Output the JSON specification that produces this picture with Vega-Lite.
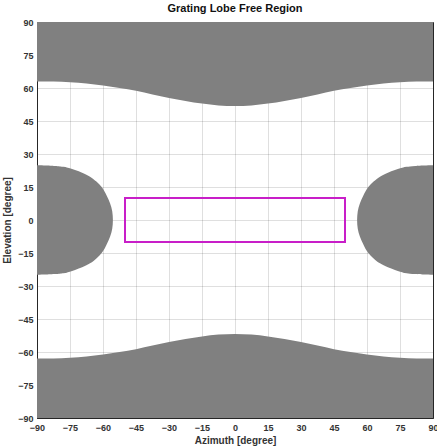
{
  "$schema": "https://vega.github.io/schema/vega-lite/v6.json",
  "width": 396,
  "height": 396,
  "autosize": {"type": "none"},
  "padding": {"left": 37, "top": 22, "right": 4, "bottom": 30},
  "background": "white",
  "title": {"text": "Grating Lobe Free Region", "font": "Liberation Sans", "fontSize": 11, "fontWeight": "bold", "color": "#111111", "offset": 4},
  "config": {
    "view": {"stroke": "#262626", "strokeWidth": 1},
    "axis": {
      "grid": true, "gridColor": "#262626", "gridOpacity": 0.15, "gridWidth": 1,
      "domainColor": "#262626", "ticks": false,
      "labelFont": "Liberation Sans", "labelFontSize": 9, "labelFontWeight": "bold", "labelColor": "#333333",
      "titleFont": "Liberation Sans", "titleFontSize": 10, "titleFontWeight": "bold", "titleColor": "#333333",
      "zindex": 1
    }
  },
  "datasets": {
    "top": [
      {"az": -90, "el": 63.0}, {"az": -82.5, "el": 62.9}, {"az": -75, "el": 62.6}, {"az": -67.5, "el": 62.0},
      {"az": -60, "el": 61.1}, {"az": -52.5, "el": 60.0}, {"az": -45, "el": 58.7}, {"az": -37.5, "el": 57.1},
      {"az": -30, "el": 55.5}, {"az": -22.5, "el": 54.1}, {"az": -15, "el": 52.9}, {"az": -7.5, "el": 52.1},
      {"az": 0, "el": 51.8}, {"az": 7.5, "el": 52.1}, {"az": 15, "el": 52.9}, {"az": 22.5, "el": 54.1},
      {"az": 30, "el": 55.5}, {"az": 37.5, "el": 57.1}, {"az": 45, "el": 58.7}, {"az": 52.5, "el": 60.0},
      {"az": 60, "el": 61.1}, {"az": 67.5, "el": 62.0}, {"az": 75, "el": 62.6}, {"az": 82.5, "el": 62.9},
      {"az": 90, "el": 63.0}
    ],
    "bottom": [
      {"az": -90, "el": -63.0}, {"az": -82.5, "el": -62.9}, {"az": -75, "el": -62.6}, {"az": -67.5, "el": -62.0},
      {"az": -60, "el": -61.1}, {"az": -52.5, "el": -60.0}, {"az": -45, "el": -58.7}, {"az": -37.5, "el": -57.1},
      {"az": -30, "el": -55.5}, {"az": -22.5, "el": -54.1}, {"az": -15, "el": -52.9}, {"az": -7.5, "el": -52.1},
      {"az": 0, "el": -51.8}, {"az": 7.5, "el": -52.1}, {"az": 15, "el": -52.9}, {"az": 22.5, "el": -54.1},
      {"az": 30, "el": -55.5}, {"az": 37.5, "el": -57.1}, {"az": 45, "el": -58.7}, {"az": 52.5, "el": -60.0},
      {"az": 60, "el": -61.1}, {"az": 67.5, "el": -62.0}, {"az": 75, "el": -62.6}, {"az": 82.5, "el": -62.9},
      {"az": 90, "el": -63.0}
    ],
    "left": [
      {"el": -24.9, "az": -90}, {"el": -24.8, "az": -86}, {"el": -24.6, "az": -82}, {"el": -24.2, "az": -78},
      {"el": -23.6, "az": -75.5}, {"el": -22.7, "az": -72.7}, {"el": -21.5, "az": -69.5}, {"el": -19.7, "az": -65.9},
      {"el": -17.5, "az": -63}, {"el": -15, "az": -60.6}, {"el": -11, "az": -58.3}, {"el": -7.6, "az": -56.8},
      {"el": -4, "az": -55.8}, {"el": 0, "az": -55.5}, {"el": 4, "az": -55.8}, {"el": 7.6, "az": -56.8},
      {"el": 11, "az": -58.3}, {"el": 15, "az": -60.6}, {"el": 17.5, "az": -63}, {"el": 19.7, "az": -65.9},
      {"el": 21.5, "az": -69.5}, {"el": 22.7, "az": -72.7}, {"el": 23.6, "az": -75.5}, {"el": 24.2, "az": -78},
      {"el": 24.6, "az": -82}, {"el": 24.8, "az": -86}, {"el": 24.9, "az": -90}
    ],
    "right": [
      {"el": -24.9, "az": 90}, {"el": -24.8, "az": 86}, {"el": -24.6, "az": 82}, {"el": -24.2, "az": 78},
      {"el": -23.6, "az": 75.5}, {"el": -22.7, "az": 72.7}, {"el": -21.5, "az": 69.5}, {"el": -19.7, "az": 65.9},
      {"el": -17.5, "az": 63}, {"el": -15, "az": 60.6}, {"el": -11, "az": 58.3}, {"el": -7.6, "az": 56.8},
      {"el": -4, "az": 55.8}, {"el": 0, "az": 55.5}, {"el": 4, "az": 55.8}, {"el": 7.6, "az": 56.8},
      {"el": 11, "az": 58.3}, {"el": 15, "az": 60.6}, {"el": 17.5, "az": 63}, {"el": 19.7, "az": 65.9},
      {"el": 21.5, "az": 69.5}, {"el": 22.7, "az": 72.7}, {"el": 23.6, "az": 75.5}, {"el": 24.2, "az": 78},
      {"el": 24.6, "az": 82}, {"el": 24.8, "az": 86}, {"el": 24.9, "az": 90}
    ],
    "box": [{"az": -50, "az2": 50, "el": -10, "el2": 10}]
  },
  "encoding": {
    "x": {"field": "az", "type": "quantitative",
      "scale": {"domain": [-90, 90], "nice": false, "zero": false},
      "axis": {"title": "Azimuth [degree]", "values": [-90, -75, -60, -45, -30, -15, 0, 15, 30, 45, 60, 75, 90], "labelPadding": 5, "titlePadding": 3, "labelFlush": false}},
    "y": {"field": "el", "type": "quantitative",
      "scale": {"domain": [-90, 90], "nice": false, "zero": false},
      "axis": {"title": "Elevation [degree]", "values": [-90, -75, -60, -45, -30, -15, 0, 15, 30, 45, 60, 75, 90], "labelPadding": 4, "titlePadding": 5, "labelFlush": false}}
  },
  "layer": [
    {"data": {"name": "top"}, "mark": {"type": "area", "color": "#808080", "orient": "vertical", "interpolate": "monotone"},
      "encoding": {"y2": {"datum": 90}}},
    {"data": {"name": "bottom"}, "mark": {"type": "area", "color": "#808080", "orient": "vertical", "interpolate": "monotone"},
      "encoding": {"y2": {"datum": -90}}},
    {"data": {"name": "left"}, "mark": {"type": "area", "color": "#808080", "orient": "horizontal", "interpolate": "monotone"},
      "encoding": {"x2": {"datum": -90}}},
    {"data": {"name": "right"}, "mark": {"type": "area", "color": "#808080", "orient": "horizontal", "interpolate": "monotone"},
      "encoding": {"x2": {"datum": 90}}},
    {"data": {"name": "box"}, "mark": {"type": "rect", "fill": null, "fillOpacity": 0, "stroke": "#C81EC8", "strokeWidth": 2},
      "encoding": {"x2": {"field": "az2"}, "y2": {"field": "el2"}}}
  ]
}
